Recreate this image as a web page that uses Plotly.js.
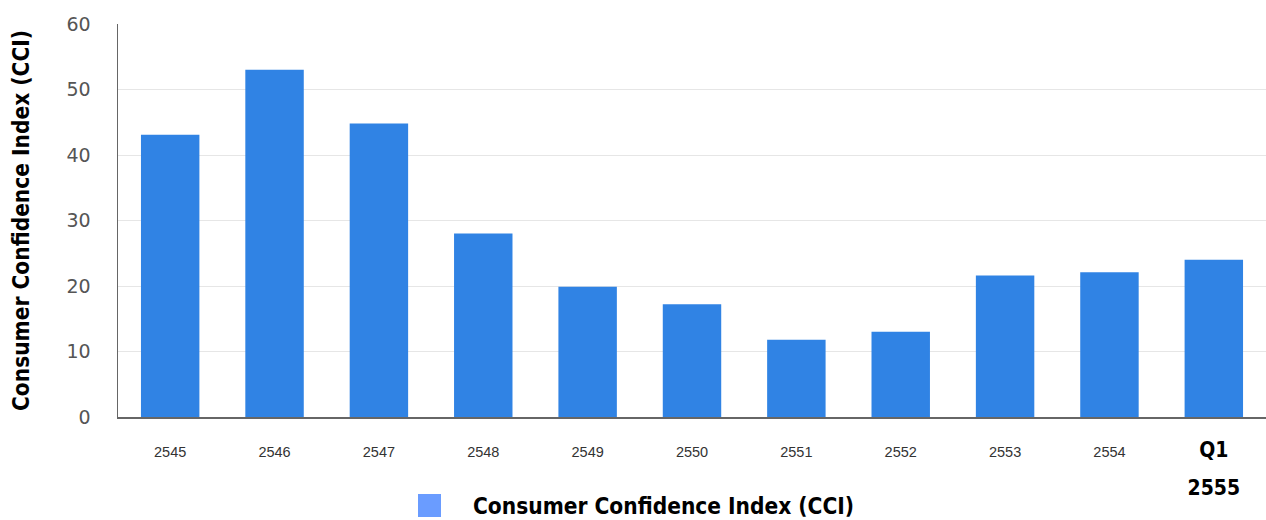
<!DOCTYPE html>
<html>
<head>
<meta charset="utf-8">
<script src="https://cdn.plot.ly/plotly-3.0.1.min.js"></script>
<style>html,body{margin:0;padding:0;background:#fff;}#chart{width:1266px;height:520px;}</style>
</head>
<body>
<div id="chart"></div>
<script>
var categories = ["2545", "2546", "2547", "2548", "2549", "2550", "2551", "2552", "2553", "2554", "Q1 2555"];
var tickLabels = ["2545", "2546", "2547", "2548", "2549", "2550", "2551", "2552", "2553", "2554",
  "<span style=\"font-family:'DejaVu Sans Condensed';font-weight:bold;font-size:21px;color:#000\">Q1</span><br> <br><span style=\"font-family:'DejaVu Sans Condensed';font-weight:bold;font-size:21px;color:#000\">2555</span>"];
var cciValues = [43.1, 53.0, 44.8, 28.0, 19.9, 17.2, 11.8, 13.0, 21.6, 22.1, 24.0];
var seriesName = "Consumer Confidence Index (CCI)";

var titleFont = {family: "'DejaVu Sans Condensed', 'DejaVu Sans', sans-serif", size: 22.5, color: "#000", weight: "bold"};

var data = [{
  type: "bar",
  x: categories,
  y: cciValues,
  name: seriesName,
  marker: {color: "#3083e4"},
  showlegend: false,
  hoverinfo: "x+y"
}];

var layout = {
  width: 1266,
  height: 520,
  margin: {l: 118, r: 0, t: 24, b: 103},
  paper_bgcolor: "#fff",
  plot_bgcolor: "#fff",
  bargap: 0.44,
  showlegend: false,
  xaxis: {
    type: "category",
    tickmode: "array",
    tickvals: categories,
    ticktext: tickLabels,
    tickfont: {family: "'Liberation Sans', Arial, sans-serif", size: 14.5, color: "#333"},
    ticks: "outside",
    ticklen: 21,
    tickcolor: "rgba(0,0,0,0)",
    showline: true,
    linecolor: "#666",
    linewidth: 1.5,
    showgrid: false,
    zeroline: false,
    tickangle: 0
  },
  yaxis: {
    range: [0, 60],
    dtick: 10,
    tick0: 0,
    tickfont: {family: "'DejaVu Sans', sans-serif", size: 19, color: "#555"},
    ticks: "outside",
    ticklen: 22,
    tickcolor: "rgba(0,0,0,0)",
    showline: true,
    linecolor: "#666",
    linewidth: 1.5,
    gridcolor: "#e6e6e6",
    gridwidth: 1,
    zeroline: false,
    title: {text: seriesName, font: titleFont, standoff: 30},
    automargin: false
  },
  shapes: [{
    type: "rect", xref: "paper", yref: "paper",
    x0: (418 - 118) / 1148, x1: (441 - 118) / 1148,
    y0: -(494 - 417) / 393, y1: -(517 - 417) / 393,
    fillcolor: "#6a9cff", line: {width: 0}
  }],
  annotations: [{
    xref: "paper", yref: "paper",
    x: (471 - 118) / 1148, y: -(506 - 417) / 393,
    xanchor: "left", yanchor: "middle",
    text: seriesName, showarrow: false,
    font: titleFont
  }]
};

Plotly.newPlot("chart", data, layout, {displayModeBar: false, staticPlot: true});
</script>
</body>
</html>
